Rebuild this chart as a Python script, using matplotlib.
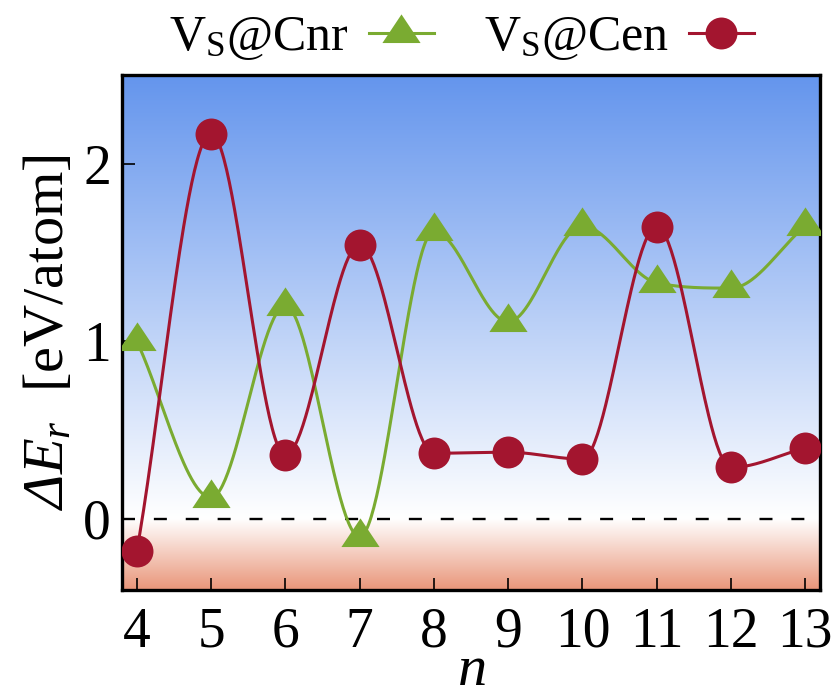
import numpy as np
import matplotlib
matplotlib.use("Agg")
import matplotlib.pyplot as plt
from matplotlib.colors import to_rgb
from matplotlib.lines import Line2D

plt.rcParams['font.family'] = ['Liberation Serif', 'DejaVu Serif']
plt.rcParams['mathtext.fontset'] = 'custom'
# rm is italic so that the Greek capital Delta comes out slanted; sf is upright
plt.rcParams['mathtext.rm'] = 'Liberation Serif:italic'
plt.rcParams['mathtext.it'] = 'Liberation Serif:italic'
plt.rcParams['mathtext.sf'] = 'Liberation Serif'
plt.rcParams['mathtext.bf'] = 'Liberation Serif:bold'

# data
n = [4, 5, 6, 7, 8, 9, 10, 11, 12, 13]
cnr = [1.00, 0.12, 1.20, -0.10, 1.62, 1.11, 1.65, 1.33, 1.30, 1.65]
cen = [-0.18, 2.17, 0.36, 1.545, 0.37, 0.376, 0.337, 1.646, 0.29, 0.40]
labels = [r'V$_{\mathsf{S}}$@Cnr', r'V$_{\mathsf{S}}$@Cen']

GREEN = '#7aab31'
RED = '#a3152f'
XLIM = (3.8, 13.2)
YLIM = (-0.4, 2.5)


def mcspline(x, y, num=500):
    # monotone cubic spline (Fritsch-Carlson), like gnuplot's "smooth mcsplines"
    x = np.asarray(x, float)
    y = np.asarray(y, float)
    h = np.diff(x)
    d = np.diff(y) / h
    t = np.empty_like(y)
    t[0] = d[0]
    t[-1] = d[-1]
    t[1:-1] = (d[:-1] + d[1:]) / 2
    for k in range(1, len(y) - 1):
        if d[k - 1] * d[k] <= 0:
            t[k] = 0
    for k in range(len(d)):
        if d[k] == 0:
            t[k] = t[k + 1] = 0
            continue
        a = t[k] / d[k]
        b = t[k + 1] / d[k]
        s = a * a + b * b
        if s > 9:
            tau = 3 / np.sqrt(s)
            t[k] = tau * a * d[k]
            t[k + 1] = tau * b * d[k]
    xs = np.linspace(x[0], x[-1], num)
    idx = np.clip(np.searchsorted(x, xs) - 1, 0, len(h) - 1)
    u = (xs - x[idx]) / h[idx]
    h00 = 2 * u**3 - 3 * u**2 + 1
    h10 = u**3 - 2 * u**2 + u
    h01 = -2 * u**3 + 3 * u**2
    h11 = u**3 - u**2
    ys = (h00 * y[idx] + h10 * h[idx] * t[idx]
          + h01 * y[idx + 1] + h11 * h[idx] * t[idx + 1])
    return xs, ys


# triangle with the data point at its centroid (gnuplot style)
tri = [(0, 1), (-1, -0.5), (1, -0.5), (0, 1)]

fig = plt.figure(figsize=(8.39, 6.96), dpi=100)
ax = fig.add_axes([0.1454, 0.1523, 0.832, 0.7399])

# background gradient: blue above zero, salmon below
yy = np.linspace(YLIM[0], YLIM[1], 600)
blue = np.array(to_rgb('#6495ed'))
salmon = np.array(to_rgb('#e9967a'))
white = np.ones(3)
grad = np.zeros((len(yy), 1, 3))
for i, v in enumerate(yy):
    if v >= 0:
        f = v / YLIM[1]
        grad[i, 0] = white * (1 - f) + blue * f
    else:
        f = v / YLIM[0]
        grad[i, 0] = white * (1 - f) + salmon * f
ax.imshow(grad, extent=[XLIM[0], XLIM[1], YLIM[0], YLIM[1]], origin='lower',
          aspect='auto', interpolation='bilinear', zorder=0)

ax.axhline(0, color='black', lw=1.7, dashes=(5.5, 8.0), zorder=1)

xs, ys = mcspline(n, cnr)
ax.plot(xs, ys, color=GREEN, lw=2.2, zorder=2)
ax.plot(n, cnr, ls='none', marker=tri, ms=27.5, color=GREEN, mec='none', zorder=3)

xs, ys = mcspline(n, cen)
ax.plot(xs, ys, color=RED, lw=2.2, zorder=4)
ax.plot(n, cen, ls='none', marker='o', ms=23, color=RED, mec='none', zorder=5)

ax.set_xlim(*XLIM)
ax.set_ylim(*YLIM)
ax.set_xticks(n)
ax.set_yticks([0, 1, 2])
ax.tick_params(direction='in', length=9, width=1.2, labelsize=40,
               top=False, right=False)
ax.tick_params(axis='x', pad=12)
ax.tick_params(axis='y', pad=8)
for s in ax.spines.values():
    s.set_linewidth(2.4)

ax.set_xlabel(r'$n$', fontsize=42, labelpad=-10)
ax.set_ylabel(r'$\Delta E_r$  [eV/atom]', fontsize=42, labelpad=6)

handles = [
    Line2D([], [], color=GREEN, lw=2.2, marker=tri, ms=27.5, mec='none'),
    Line2D([], [], color=RED, lw=2.2, marker='o', ms=23, mec='none'),
]
fig.legend(handles, labels, loc='center', bbox_to_anchor=(0.55, 0.945),
           ncol=2, frameon=False, fontsize=36, markerfirst=False,
           handlelength=1.3, handletextpad=0.4, columnspacing=1.0)

fig.savefig('out.png', dpi=100)
